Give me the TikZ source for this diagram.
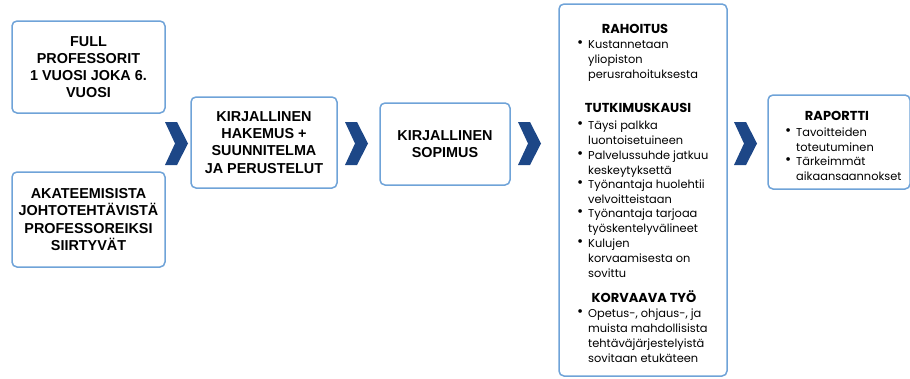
\documentclass[tikz,border=0pt]{standalone}
\usepackage{fontspec}
\setmainfont{Liberation Sans}
\newfontfamily\pop{Poppins}
\definecolor{bord}{HTML}{6FA3D8}
\definecolor{chev}{HTML}{1D4787}
\newcommand\bi[1]{\makebox[11pt][l]{\raisebox{0.3pt}{\fontsize{15}{15}\selectfont\textbullet}}\parbox[t]{150pt}{#1}}
\begin{document}
\begin{tikzpicture}[x=1pt,y=-1pt,
  box/.style={draw=bord, line width=1.5pt, rounded corners=5pt, fill=white,
    font=\bfseries\fontsize{14.4}{17.2}\selectfont, align=center, text=black, inner sep=2pt},
  chevron/.style={fill=chev, draw=none},
  head/.style={font=\pop\bfseries\fontsize{13}{15}\selectfont, anchor=base, inner sep=0pt},
  item/.style={font=\pop\fontsize{11.4}{15}\selectfont, anchor=base west, inner sep=0pt}]
\useasboundingbox (0,0) rectangle (910,378);
% left boxes
\node[box, minimum width=153pt, minimum height=92pt] (b1) at (88.5,67) {FULL\\PROFESSORIT\\1 VUOSI JOKA 6.\\VUOSI};
\node[box, minimum width=153pt, minimum height=95pt] (b2) at (88.5,219.5) {AKATEEMISISTA\\JOHTOTEHTÄVISTÄ\\PROFESSOREIKSI\\SIIRTYVÄT};
\node[box, minimum width=146pt, minimum height=91pt] (b3) at (264,142.5) {KIRJALLINEN\\HAKEMUS +\\SUUNNITELMA\\JA PERUSTELUT};
\node[box, minimum width=130pt, minimum height=82pt] (b4) at (445,144) {KIRJALLINEN\\SOPIMUS};
\node[box, minimum width=168pt, minimum height=372pt] (b5) at (643,190) {};
\node[box, minimum width=142pt, minimum height=94pt] (b6) at (839,142) {};
% chevrons
\foreach \cx in {165,345,518,734}{
  \fill[chevron] (\cx,122) -- ++(12,0) -- ++(11,21.5) -- ++(-11,21.5) -- ++(-12,0) -- ++(10,-21.5) -- cycle;
}
% big box content
\node[head] (h1) at (635,33) {RAHOITUS};
\node[item] (i1) at (577,48) {\bi{Kustannetaan\\yliopiston\\perusrahoituksesta}};
\node[head] (h2) at (638,112) {TUTKIMUSKAUSI};
\node[item] (i2) at (577,129) {\bi{Täysi palkka\\luontoisetuineen}};
\node[item] (i3) at (577,159) {\bi{Palvelussuhde jatkuu\\keskeytyksettä}};
\node[item] (i4) at (577,188) {\bi{Työnantaja huolehtii\\velvoitteistaan}};
\node[item] (i5) at (577,217) {\bi{Työnantaja tarjoaa\\työskentelyvälineet}};
\node[item] (i6) at (577,247) {\bi{Kulujen\\korvaamisesta on\\sovittu}};
\node[head] (h3) at (644,302) {KORVAAVA TYÖ};
\node[item] (i7) at (577,317) {\bi{Opetus-, ohjaus-, ja\\muista mahdollisista\\tehtäväjärjestelyistä\\sovitaan etukäteen}};
% raportti content
\node[head] (h4) at (837,120) {RAPORTTI};
\node[item] (j1) at (785,136) {\bi{Tavoitteiden\\toteutuminen}};
\node[item] (j2) at (785,165) {\bi{Tärkeimmät\\aikaansaannokset}};
\end{tikzpicture}
\end{document}
